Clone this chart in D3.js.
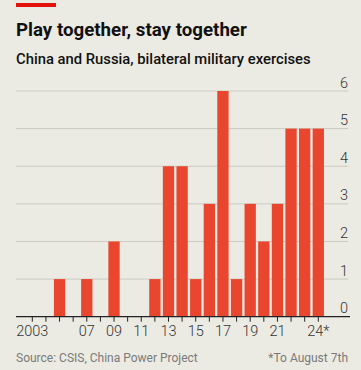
<!DOCTYPE html>
<html>
<head>
<meta charset="utf-8">
<script src="https://cdn.jsdelivr.net/npm/d3@7"></script>
<style>
  html, body { margin: 0; padding: 0; background: #ecebe3; }
  svg { display: block; }
  text { font-family: Roboto, "Noto Sans", sans-serif; }
</style>
</head>
<body>
<div id="chart"></div>
<script>

  // Data
  var years = d3.range(2003, 2025);
  var exercises = [0, 0, 1, 0, 1, 0, 2, 0, 0, 1, 4, 4, 1, 3, 6, 1, 3, 2, 3, 5, 5, 5];
  var yTicks = [0, 1, 2, 3, 4, 5, 6];
  var xLabelYears = [2003, 2007, 2009, 2011, 2013, 2015, 2017, 2019, 2021, 2024];

  var width = 361,
    height = 370;

  var options = {
    background: '#ecebe3',
    barColor: '#e8462f',
    gridColor: '#cbcac2',
    axisColor: '#222',
    textColor: '#333',
    mutedColor: '#7a7a7a'
  };

  var svg = d3.select('#chart').append('svg')
    .attr('width', width)
    .attr('height', height);

  svg.append('rect')
    .attr('width', width)
    .attr('height', height)
    .attr('fill', options.background);

  // Red marker top left
  svg.append('rect')
    .attr('x', 16).attr('y', 3)
    .attr('width', 40).attr('height', 4)
    .attr('fill', '#e3120b');

  svg.append('text')
    .attr('x', 16).attr('y', 36)
    .attr('font-size', 18.7)
    .attr('font-weight', 700)
    .attr('fill', '#111')
    .text('Play together, stay together');

  svg.append('text')
    .attr('x', 16).attr('y', 64)
    .attr('font-size', 14.8)
    .attr('font-weight', 500)
    .attr('fill', '#111')
    .text('China and Russia, bilateral military exercises');

  var x = d3.scaleBand()
    .domain(years)
    .range([25.5, 325.1])
    .paddingInner(0.17)
    .paddingOuter(0.085);

  var y = d3.scaleLinear()
    .domain([0, 6])
    .range([316.7, 91]);

  // Gridlines
  svg.append('g')
    .selectAll('line')
    .data(yTicks.filter(function(d) { return d > 0; }))
    .join('line')
    .attr('x1', 16).attr('x2', 348)
    .attr('y1', function(d) { return y(d); })
    .attr('y2', function(d) { return y(d); })
    .attr('stroke', options.gridColor)
    .attr('stroke-width', 1);

  // Y labels sit above the gridlines on the right
  svg.append('g')
    .selectAll('text')
    .data(yTicks)
    .join('text')
    .attr('x', 348)
    .attr('y', function(d) { return y(d) - 3.5; })
    .attr('text-anchor', 'end')
    .attr('font-size', 14.5)
    .attr('font-weight', 300)
    .attr('fill', options.textColor)
    .text(function(d) { return d; });

  // Bars
  svg.append('g')
    .selectAll('rect')
    .data(years)
    .join('rect')
    .attr('x', function(d) { return x(d); })
    .attr('width', x.bandwidth())
    .attr('y', function(d, i) { return y(exercises[i]); })
    .attr('height', function(d, i) { return y(0) - y(exercises[i]); })
    .attr('fill', options.barColor);

  // X axis
  var xAxis = d3.axisBottom(x)
    .tickSize(5)
    .tickPadding(4)
    .tickFormat(function(d) {
      if (xLabelYears.indexOf(d) < 0) return '';
      if (d === 2003) return '2003';
      if (d === 2024) return '24*';
      return String(d).slice(2);
    });

  var gx = svg.append('g')
    .attr('transform', 'translate(0,' + y(0) + ')')
    .call(xAxis);

  gx.select('.domain').remove();
  gx.selectAll('.tick line').attr('stroke', options.axisColor).attr('stroke-width', 1);
  gx.selectAll('.tick text')
    .attr('font-size', 14.5)
    .attr('font-weight', 300)
    .attr('font-family', 'Roboto, "Noto Sans", sans-serif')
    .attr('fill', options.textColor);

  svg.append('line')
    .attr('x1', 16).attr('x2', 350)
    .attr('y1', y(0)).attr('y2', y(0))
    .attr('stroke', options.axisColor)
    .attr('stroke-width', 1.2);

  // Footer
  svg.append('text')
    .attr('x', 16).attr('y', 362)
    .attr('font-size', 12)
    .attr('fill', options.mutedColor)
    .text('Source: CSIS, China Power Project');

  svg.append('text')
    .attr('x', 348).attr('y', 362)
    .attr('text-anchor', 'end')
    .attr('font-size', 12)
    .attr('fill', options.mutedColor)
    .text('*To August 7th');

</script>
</body>
</html>
